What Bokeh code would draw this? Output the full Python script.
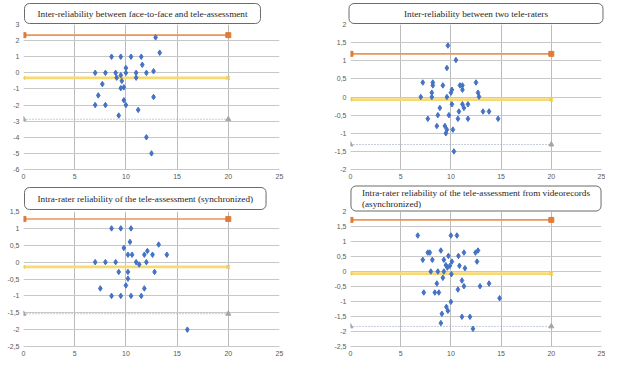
from bokeh.plotting import figure
from bokeh.models import Range1d, FixedTicker, CustomJSTickFormatter
from bokeh.layouts import row, column
from bokeh.embed import file_html
from bokeh.resources import INLINE

# ---------------- data ----------------
X_TICKS = [0, 5, 10, 15, 20, 25]
LIM_X = [0, 20]

TITLE1 = "Inter-reliability between face-to-face and tele-assessment"
TITLE2 = "Inter-reliability between two tele-raters"
TITLE3 = "Intra-rater reliability of the tele-assessment (synchronized)"
TITLE4 = "Intra-rater reliability of the tele-assessment from videorecords\n(asynchronized)"

x1 = [12.9, 13.3, 8.6, 9.5, 10.5, 11.5, 11.6, 10.0, 7.0, 8.0, 9.0, 10.0, 11.0, 12.0, 12.7, 9.5,
      9.1, 11.0, 9.6, 7.7, 9.5, 9.8, 7.3, 9.8, 12.7, 7.0, 8.0, 10.0, 11.2, 9.3, 12.0, 12.5]
y1 = [2.2, 1.25, 1, 1, 1, 1, 0.5, 0.3, 0, 0, 0, 0, 0, 0, 0.1, -0.15,
      -0.3, -0.3, -0.5, -0.7, -0.95, -0.9, -1.4, -1.7, -1.5, -2, -2, -2, -2.3, -2.65, -4, -5]
upper1, mean1, lower1 = 2.34, -0.31, -2.88
yticks1 = [-6, -5, -4, -3, -2, -1, 0, 1, 2, 3]

x2 = [9.7, 10.5, 9.6, 7.2, 8.2, 8.2, 9.2, 10.9, 11.15, 11.15, 10.1, 10.0, 12.5, 12.7, 12.8, 7.0,
      8.1, 8.1, 9.6, 10.1, 11.15, 11.7, 11.3, 8.9, 10.8, 13.2, 13.8, 8.7, 9.8, 7.7, 10.7, 11.7,
      14.7, 8.6, 9.4, 9.6, 10.2, 9.5, 10.3]
y2 = [1.42, 1.02, 0.8, 0.4, 0.4, 0.32, 0.32, 0.32, 0.32, 0.2, 0.2, 0.12, 0.4, 0.12, 0.01, 0,
      0.12, 0, 0, -0.2, -0.2, -0.2, -0.3, -0.3, -0.4, -0.4, -0.4, -0.5, -0.5, -0.6, -0.6, -0.6,
      -0.6, -0.8, -0.8, -0.9, -0.9, -1.0, -1.5]
upper2, mean2, lower2 = 1.19, -0.07, -1.31
yticks2 = [-2, -1.5, -1, -0.5, 0, 0.5, 1, 1.5, 2]

x3 = [8.6, 9.5, 10.5, 10.4, 13.2, 9.8, 12.1, 10.2, 10.6, 11.8, 12.6, 14.0, 7.0, 8.0, 9.0, 11.0,
      12.0, 11.3, 9.3, 10.2, 12.8, 10.2, 10.0, 7.5, 11.8, 8.6, 9.5, 10.5, 11.5, 16.0]
y3 = [1, 1, 1, 0.6, 0.52, 0.42, 0.33, 0.22, 0.22, 0.22, 0.22, 0.22, 0, 0, 0, 0,
      0, -0.07, -0.29, -0.29, -0.29, -0.49, -0.69, -0.78, -0.78, -1, -1, -1, -1, -2]
upper3, mean3, lower3 = 1.28, -0.14, -1.53
yticks3 = [-2.5, -2, -1.5, -1, -0.5, 0, 0.5, 1, 1.5]

x4 = [6.7, 10.0, 10.6, 7.7, 7.9, 9.0, 11.3, 12.45, 12.7, 7.2, 8.15, 9.3, 9.75, 10.75, 10.1,
      12.6, 9.5, 9.9, 9.65, 10.85, 11.4, 8.0, 8.7, 9.3, 10.05, 9.2, 11.1, 8.6, 11.3, 12.9,
      13.8, 10.7, 7.3, 8.4, 8.8, 10.0, 14.85, 9.55, 9.7, 9.1, 11.1, 11.9, 9.0, 12.2]
y4 = [1.2, 1.2, 1.2, 0.63, 0.63, 0.7, 0.63, 0.63, 0.7, 0.39, 0.39, 0.39, 0.52, 0.52, 0.33,
      0.33, 0.21, 0.19, 0.13, 0.19, 0.11, 0, 0, 0, -0.09, -0.21, -0.3, -0.4, -0.49, -0.49,
      -0.4, -0.6, -0.7, -0.7, -0.7, -1.01, -0.89, -1.18, -1.31, -1.41, -1.51, -1.51, -1.72, -1.91]
upper4, mean4, lower4 = 1.72, -0.07, -1.83
yticks4 = [-2.5, -2, -1.5, -1, -0.5, 0, 0.5, 1, 1.5, 2]

# ---------------- styles ----------------
HGRID = "#C8C8C8"
VGRID = "#BCBCBC"
LABEL = "#595959"
TICK_FONT = "Liberation Sans"


def make_panel(xs, ys, upper, mean, lower, yticks, title, align, pad_x, pad_y, t_offset, standoff,
               width, height, bl, br, bb):
    p = figure(width=width, height=height, output_backend="svg", toolbar_location=None,
               x_range=Range1d(0, 25), y_range=Range1d(yticks[0], yticks[-1]),
               min_border_left=bl, min_border_right=br, min_border_top=0,
               min_border_bottom=bb, title=title)
    p.outline_line_color = None

    t = p.title
    t.align = align
    t.offset = t_offset
    t.standoff = standoff
    t.text_font = "Liberation Serif"
    t.text_font_size = "9.2px"
    t.text_font_style = "normal"
    t.text_color = "#262626"
    t.text_line_height = 1.1
    t.border_line_color = "#6b6b6b"
    t.border_line_width = 1
    t.background_fill_color = "white"
    t.border_radius = 5
    t.padding = {"left": pad_x, "right": pad_x, "top": pad_y, "bottom": pad_y}

    p.xaxis.ticker = FixedTicker(ticks=X_TICKS)
    p.yaxis.ticker = FixedTicker(ticks=yticks)
    p.xgrid.ticker = FixedTicker(ticks=X_TICKS)
    p.ygrid.ticker = FixedTicker(ticks=yticks)
    p.xgrid.grid_line_color = VGRID
    p.ygrid.grid_line_color = HGRID
    p.xgrid.grid_line_width = 1
    p.ygrid.grid_line_width = 1

    p.yaxis.formatter = CustomJSTickFormatter(code="return String(tick).replace('.', ',');")
    for ax in (p.xaxis, p.yaxis):
        ax.major_tick_line_color = None
        ax.minor_tick_line_color = None
        ax.major_tick_out = 0
        ax.major_tick_in = 0
        ax.minor_tick_out = 0
        ax.minor_tick_in = 0
        ax.major_label_text_color = LABEL
        ax.major_label_text_font = TICK_FONT
        ax.major_label_text_font_size = "7px"
    p.yaxis.axis_line_color = None
    p.yaxis.major_label_standoff = 4
    p.xaxis.axis_line_color = HGRID
    p.xaxis.major_label_standoff = 4

    up = [upper for _ in LIM_X]
    mn = [mean for _ in LIM_X]
    lo = [lower for _ in LIM_X]

    p.line(LIM_X, lo, line_color="#8A9AB5", line_width=1, line_dash="1 2")
    p.scatter(LIM_X, lo, marker="triangle", size=5, color="#A5A5A5")
    p.line(LIM_X, mn, line_color="#F8DA72", line_width=2.8)
    p.scatter(LIM_X, mn, marker="x", size=5, line_color="#F2C94C", line_width=1.2)
    p.line(LIM_X, up, line_color="#E9965A", line_width=1.6)
    p.scatter(LIM_X, up, marker="square", size=5, color="#E07B39")

    p.scatter(xs, ys, marker="diamond", size=5.5, color="#4472C4")
    return p


f1 = make_panel(x1, y1, upper1, mean1, lower1, yticks1, TITLE1, "left", 13, 5, 1, 2,
                331, 183, 23, 52, 14)
f2 = make_panel(x2, y2, upper2, mean2, lower2, yticks2, TITLE2, "center", 55, 5, 0, 2,
                274, 183, 15, 4, 14)
f3 = make_panel(x3, y3, upper3, mean3, lower3, yticks3, TITLE3, "left", 13, 6, 1, 4,
                331, 183, 23, 52, 11)
f4 = make_panel(x4, y4, upper4, mean4, lower4, yticks4, TITLE4, "center", 11, 2, 0, 1,
                274, 183, 15, 4, 20)

layout = column(row(f1, f2, spacing=0), row(f3, f4, spacing=0), spacing=0)

open("out.html", "w").write(file_html(layout, INLINE))
